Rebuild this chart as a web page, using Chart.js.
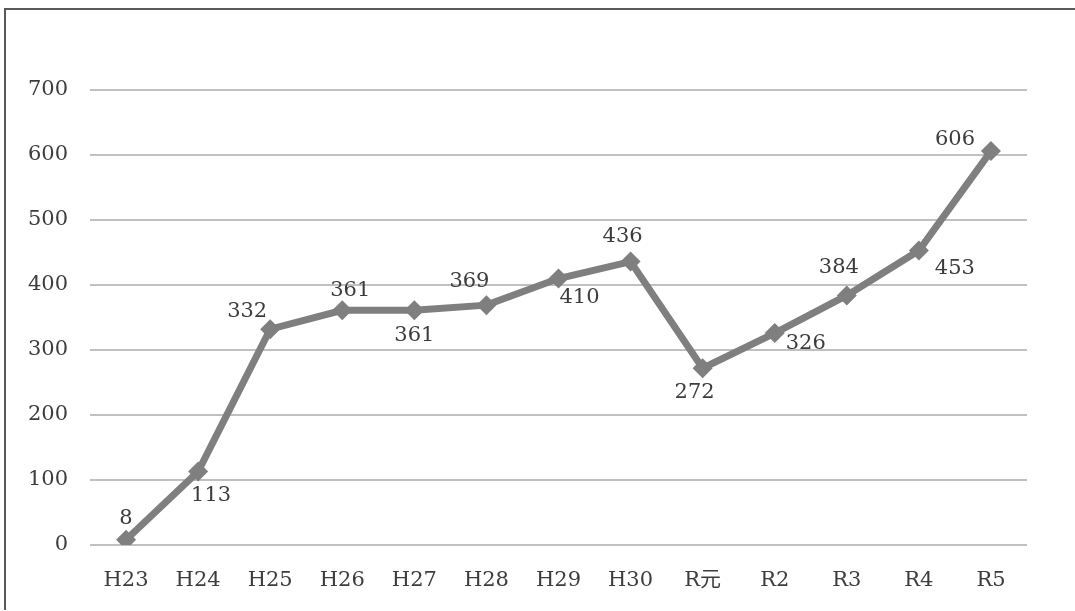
<!DOCTYPE html>
<html>
<head>
<meta charset="utf-8">
<script src="https://cdn.jsdelivr.net/npm/chart.js@4.4.1/dist/chart.umd.min.js"></script>
<style>
  html, body { margin: 0; padding: 0; background: #fff; overflow: hidden; }
  #frame {
    position: absolute; left: 4px; top: 8px;
    width: 1069px; height: 600px;
    border: 2px solid #595959; border-right: none; border-bottom: none;
  }
</style>
</head>
<body>
<div id="frame"><canvas id="c" width="1069" height="600"></canvas></div>
<script>
// Fiscal years (Heisei 23 – Reiwa 5)
const categories = ['H23', 'H24', 'H25', 'H26', 'H27', 'H28', 'H29', 'H30', 'R元', 'R2', 'R3', 'R4', 'R5'];
// Yearly counts
const counts = [8, 113, 332, 361, 361, 369, 410, 436, 272, 326, 384, 453, 606];
// Axis tick values
const yTicks = [0, 100, 200, 300, 400, 500, 600, 700];

// Where each value label sits relative to its marker (pixels)
const labelOffsets = [
  [0, -21], [13, 24], [-23, -18], [8, -20], [0, 25], [-17, -24], [21, 19],
  [-8, -25], [-8, 24], [31, 10], [-8, -28], [36, 18], [-36, -12]
];

const FONT = '"DejaVu Serif", "Liberation Serif", "Noto Sans CJK JP", serif';
const TEXT = '#3c3c3c';
const SIZE = 21;

const valueLabels = {
  id: 'valueLabels',
  afterDatasetsDraw(chart) {
    const ctx = chart.ctx;
    const meta = chart.getDatasetMeta(0);
    ctx.save();
    ctx.font = SIZE + 'px ' + FONT;
    ctx.fillStyle = TEXT;
    ctx.textAlign = 'center';
    ctx.textBaseline = 'middle';
    meta.data.forEach((pt, i) => {
      const [dx, dy] = labelOffsets[i];
      ctx.fillText(String(counts[i]), pt.x + dx, pt.y + dy);
    });
    ctx.restore();
  }
};

new Chart(document.getElementById('c'), {
  type: 'line',
  data: {
    labels: categories,
    datasets: [{
      data: counts,
      borderColor: '#7f7f7f',
      backgroundColor: '#7f7f7f',
      borderWidth: 7,
      pointStyle: 'rectRot',
      pointRadius: 10,
      pointHoverRadius: 10,
      pointBorderWidth: 0,
      tension: 0
    }]
  },
  options: {
    responsive: false,
    animation: false,
    layout: { padding: { left: 0, right: 48, top: 80, bottom: 0 } },
    plugins: { legend: { display: false }, tooltip: { enabled: false } },
    scales: {
      x: {
        offset: true,
        grid: { display: false },
        border: { display: false },
        ticks: { font: { family: FONT, size: SIZE }, color: TEXT, padding: 15 },
        afterFit(s) { s.height = 65; }
      },
      y: {
        min: 0, max: 700,
        afterBuildTicks(s) { s.ticks = yTicks.map(v => ({ value: v })); },
        grid: { color: '#c0c0c0', lineWidth: 2, drawTicks: false },
        border: { display: false },
        ticks: { font: { family: FONT, size: SIZE }, color: TEXT, padding: 22 },
        afterFit(s) { s.width = 84; }
      }
    }
  },
  plugins: [valueLabels]
});
</script>
</body>
</html>
